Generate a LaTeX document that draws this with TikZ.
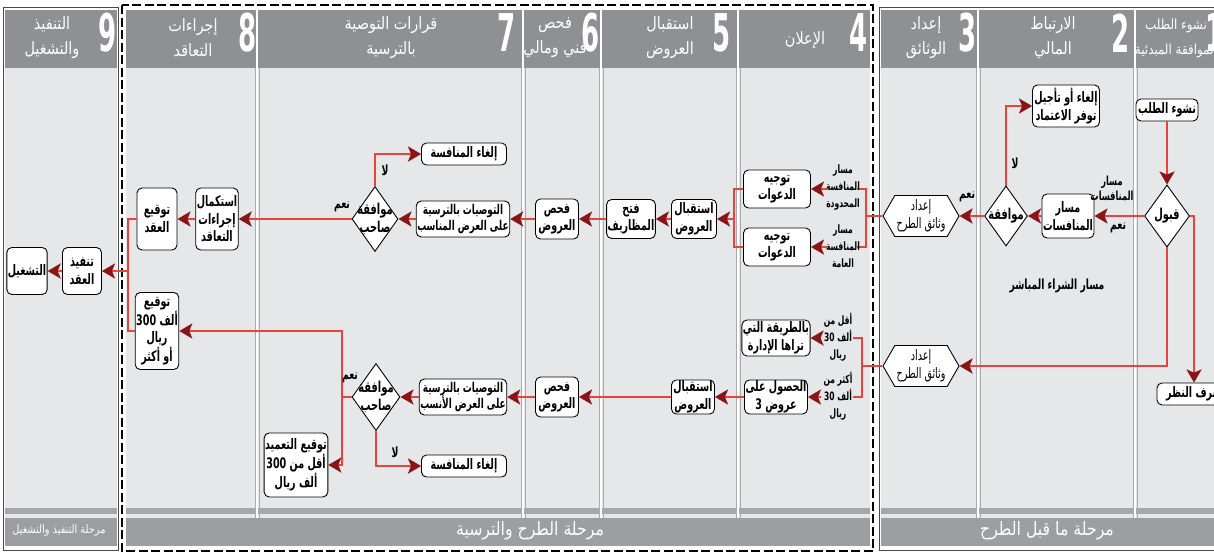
\documentclass[tikz,border=0pt]{standalone}
\usepackage{fontspec}
\usetikzlibrary{arrows.meta,shapes.geometric,shapes.symbols}
\TeXXeTstate=1
\newfontfamily\arfont[Script=Arabic,FakeStretch=0.66]{DejaVu Sans}
\newfontfamily\hdfont[Script=Arabic,FakeStretch=0.85]{DejaVu Sans}
\newfontfamily\numfont[FakeStretch=0.5]{DejaVu Sans}
\newcommand{\rtl}[1]{\beginR #1\endR}
\definecolor{hdrc}{HTML}{8E9093}
\definecolor{bodyc}{HTML}{E6E7E8}
\definecolor{stripc}{HTML}{A5A7AA}
\definecolor{bandc}{HTML}{9C9EA1}
\definecolor{divc}{HTML}{A8AAAD}
\definecolor{redc}{HTML}{E8433D}
\definecolor{arrc}{HTML}{8A1519}
\definecolor{frmc}{HTML}{4A4A4A}
\tikzset{
 box/.style={draw=black, line width=0.9pt, fill=white, rounded corners=5pt, align=center, inner sep=1pt, font=\arfont\bfseries\fontsize{14.5}{17.5}\selectfont},
 dia/.style={diamond, draw=black, line width=0.9pt, fill=white, inner sep=0pt},
 dtx/.style={align=center, inner sep=0pt, font=\arfont\bfseries\fontsize{15}{18}\selectfont},
 hex/.style={signal, signal to=west and east, signal pointer angle=120, draw=black, line width=0.9pt, fill=white, align=center, inner sep=1pt, font=\arfont\fontsize{14.5}{18}\selectfont},
 ln/.style={draw=redc, line width=2.6pt},
 arr/.style={ln, -{Stealth[length=13pt, width=15pt, inset=3pt, color=arrc]}},
 lbl/.style={align=center, inner sep=0pt, font=\arfont\bfseries\fontsize{14}{16}\selectfont},
 sml/.style={align=center, inner sep=0pt, font=\arfont\bfseries\fontsize{11.5}{17}\selectfont},
 hd/.style={text=white, align=center, inner sep=0pt, font=\hdfont\fontsize{17}{25}\selectfont},
 num/.style={text=white, inner sep=0pt, font=\numfont\bfseries\fontsize{52}{52}\selectfont},
 phase/.style={text=white, inner sep=0pt, font=\hdfont\fontsize{18.5}{20}\selectfont},
 frm/.style={draw=frmc, line width=1pt},
 dsh/.style={draw=black, line width=2.6pt, dash pattern=on 9pt off 3.5pt},
}
\begin{document}
\begin{tikzpicture}[x=1pt,y=-1pt]
\useasboundingbox (0,0) rectangle (1214,555);
\fill[white] (0,0) rectangle (1214,555);
% panels
\foreach \a/\b in {5/117,126/870,881/1216}{
 \fill[hdrc] (\a,10) rectangle (\b,68);
 \fill[bodyc] (\a,68) rectangle (\b,508);
 \fill[stripc] (\a,508) rectangle (\b,514);
 \fill[bodyc] (\a,514) rectangle (\b,518);
 \fill[bandc] (\a,518) rectangle (\b,546);
}
\foreach \x in {257,523,601,738,978,1135}{
 \draw[white, line width=2.4pt] (\x,10) -- (\x,518);
 \draw[divc, line width=0.5pt] (\x-1.9,68) -- (\x-1.9,518);
 \draw[divc, line width=0.5pt] (\x+1.9,68) -- (\x+1.9,518);
}
\draw[frm] (3,7) rectangle (118,550);
\draw[frm] (879,7) rectangle (1220,550);
\draw[dsh] (122,5) rectangle (873,551);
% headers
\node[hd, font=\hdfont\fontsize{14}{25}\selectfont] at (1176,38) {\rtl{نشوء الطلب}\\\rtl{الموافقة المبدئية}};
\node[hd] at (1053,38) {\rtl{الارتباط}\\\rtl{المالي}};
\node[hd] at (926,38) {\rtl{إعداد}\\\rtl{الوثائق}};
\node[hd] at (805,40) {\rtl{الإعلان}};
\node[hd] at (670,38) {\rtl{استقبال}\\\rtl{العروض}};
\node[hd] at (555,38) {\rtl{فحص}\\\rtl{فني ومالي}};
\node[hd] at (391,38) {\rtl{قرارات التوصية}\\\rtl{بالترسية}};
\node[hd] at (193,38) {\rtl{إجراءات}\\\rtl{التعاقد}};
\node[hd] at (52,38) {\rtl{التنفيذ}\\\rtl{والتشغيل}};
\node[num] at (1215,33) {1};
\node[num] at (1121,33) {2};
\node[num] at (968,33) {3};
\node[num] at (859,33) {4};
\node[num] at (722,33) {5};
\node[num] at (591,33) {6};
\node[num] at (507,33) {7};
\node[num] at (248,33) {8};
\node[num] at (108,33) {9};
% phases
\node[phase] at (1047,531) {\rtl{مرحلة ما قبل الطرح}};
\node[phase] at (530,531) {\rtl{مرحلة الطرح والترسية}};
\node[phase, font=\hdfont\fontsize{11.5}{13}\selectfont] at (59,531) {\rtl{مرحلة التنفيذ والتشغيل}};
% column 1-3
\node[box, minimum width=62pt, minimum height=22pt] (n1) at (1167,110) {\rtl{نشوء الطلب}};
\node[dia, minimum width=45pt, minimum height=62pt] (d1) at (1167,216) {};
\node[dtx] at (d1) {\rtl{قبول}};
\node[box, minimum width=74pt, minimum height=22pt] (n2) at (1194,394) {\rtl{صرف النظر}};
\node[box, minimum width=40pt, minimum height=44pt] (b2) at (1068,216) {\rtl{مسار}\\\rtl{المنافسات}};
\node[dia, minimum width=43pt, minimum height=60pt] (d2) at (1006,216) {};
\node[dtx] at (d2) {\rtl{موافقة}};
\node[box, minimum width=67pt, minimum height=42pt] (b3) at (1066,106) {\rtl{إلغاء أو تأجيل}\\\rtl{توفر الاعتماد}};
\node[hex, minimum width=76pt, minimum height=41pt] (hu) at (921,216) {\rtl{إعداد}\\\rtl{وثائق الطرح}};
\node[hex, minimum width=76pt, minimum height=41pt] (hl) at (921,366) {\rtl{إعداد}\\\rtl{وثائق الطرح}};
\node[lbl, font=\arfont\bfseries\fontsize{12.5}{15}\selectfont] at (1112,188) {\rtl{مسار}\\\rtl{المنافسات}};
\node[lbl] at (1118,228) {\rtl{نعم}};
\node[lbl] at (1015,163) {\rtl{لا}};
\node[lbl] at (967,197) {\rtl{نعم}};
\node[lbl] at (1057,286) {\rtl{مسار الشراء المباشر}};
\draw[arr] (n1.south) -- (d1.north);
\draw[arr] (d1.east) -| (n2.north);
\draw[arr] (d1.west) -- (b2.east);
\draw[arr] (b2.west) -- (d2.east);
\draw[arr] (d2.north) |- (b3.west);
\draw[arr] (d2.west) -- (hu.east);
\draw[arr] (d1.south) |- (hl.east);
% column 4 upper
\coordinate (k1) at (866,216);
\coordinate (s1) at (857,189);
\coordinate (s2) at (857,247);
\coordinate (a1) at (828,189);
\coordinate (a2) at (828,247);
\draw[ln] (hu.west) -- (k1);
\draw[ln] (s1) -| (k1) |- (s2);
\node[sml] at (843,188) {\rtl{مسار}\\\rtl{المنافسة}\\\rtl{المحدودة}};
\node[sml] at (843,246) {\rtl{مسار}\\\rtl{المنافسة}\\\rtl{العامة}};
\node[box, minimum width=67pt, minimum height=38pt] (c1) at (777,189) {\rtl{توجيه}\\\rtl{الدعوات}};
\node[box, minimum width=67pt, minimum height=38pt] (c2) at (777,247) {\rtl{توجيه}\\\rtl{الدعوات}};
\draw[arr] (a1) -- (c1.east);
\draw[arr] (a2) -- (c2.east);
\coordinate (j1) at (734,219);
\draw[ln] (c1.west) -| (j1) |- (c2.west);
\node[box, minimum width=45pt, minimum height=39pt] (e1) at (694,219) {\rtl{استقبال}\\\rtl{العروض}};
\draw[arr] (j1) -- (e1.east);
\node[box, minimum width=42pt, minimum height=39pt] (f1) at (631,219) {\rtl{فتح}\\\rtl{المظاريف}};
\draw[arr] (e1.west) -- (f1.east);
\node[box, minimum width=43pt, minimum height=40pt] (g1) at (557,219) {\rtl{فحص}\\\rtl{العروض}};
\draw[arr] (f1.west) -- (g1.east);
\node[box, minimum width=87pt, minimum height=36pt, font=\arfont\bfseries\fontsize{13.5}{16.5}\selectfont] (h1) at (463,219) {\rtl{التوصيات بالترسية}\\\rtl{على العرض المناسب}};
\draw[arr] (g1.west) -- (h1.east);
\node[dia, minimum width=46pt, minimum height=65pt] (d3) at (375,219) {};
\node[dtx] at (d3) {\rtl{موافقة}\\\rtl{صاحب}};
\draw[arr] (h1.west) -- (d3.east);
\node[box, minimum width=85pt, minimum height=22pt] (i1) at (464,154) {\rtl{إلغاء المنافسة}};
\draw[arr] (d3.north) |- (i1.west);
\node[lbl] at (385,170) {\rtl{لا}};
\node[lbl] at (342,207) {\rtl{نعم}};
\node[box, minimum width=41pt, minimum height=62pt] (j2) at (217,219) {\rtl{استكمال}\\\rtl{إجراءات}\\\rtl{التعاقد}};
\draw[arr] (d3.west) -- (j2.east);
\node[box, minimum width=40pt, minimum height=62pt] (k2) at (157,219) {\rtl{توقيع}\\\rtl{العقد}};
\draw[arr] (j2.west) -- (k2.east);
\node[box, minimum width=43pt, minimum height=77pt] (m2) at (157,331) {\rtl{توقيع}\\\rtl{ألف \beginL 300\endL}\\\rtl{ريال}\\\rtl{أو أكثر}};
\coordinate (q1) at (128,271);
\draw[ln] (k2.west) -| (q1) |- (m2.west);
\node[box, minimum width=39pt, minimum height=47pt] (t1) at (82,271) {\rtl{تنفيذ}\\\rtl{العقد}};
\node[box, minimum width=35pt, minimum height=47pt] (t2) at (27,271) {\rtl{التشغيل}};
\draw[arr] (q1) -- (t1.east);
\draw[arr] (t1.west) -- (t2.east);
% lower path
\coordinate (k3) at (862,366);
\coordinate (s3) at (853,338);
\coordinate (s4) at (853,397);
\coordinate (a3) at (821,338);
\coordinate (a4) at (821,397);
\draw[ln] (hl.west) -- (k3);
\draw[ln] (s3) -| (k3) |- (s4);
\node[sml] at (838,337) {\rtl{أقل من}\\\rtl{ألف \beginL 30\endL}\\\rtl{ريال}};
\node[sml] at (838,396) {\rtl{أكثر من}\\\rtl{ألف \beginL 30\endL}\\\rtl{ريال}};
\node[box, minimum width=62pt, minimum height=36pt] (p1) at (776,338) {\rtl{بالطريقة التي}\\\rtl{تراها الإدارة}};
\node[box, minimum width=62pt, minimum height=34pt] (p2) at (776,397) {\rtl{الحصول على}\\\rtl{عروض \beginL 3\endL}};
\draw[arr] (a3) -- (p1.east);
\draw[arr] (a4) -- (p2.east);
\node[box, minimum width=43pt, minimum height=33pt] (e2) at (693,397) {\rtl{استقبال}\\\rtl{العروض}};
\draw[arr] (p2.west) -- (e2.east);
\node[box, minimum width=43pt, minimum height=40pt] (g2) at (557,397) {\rtl{فحص}\\\rtl{العروض}};
\draw[arr] (e2.west) -- (g2.east);
\node[box, minimum width=87pt, minimum height=36pt, font=\arfont\bfseries\fontsize{13.5}{16.5}\selectfont] (h2) at (463,397) {\rtl{التوصيات بالترسية}\\\rtl{على العرض الأنسب}};
\draw[arr] (g2.west) -- (h2.east);
\node[dia, minimum width=48pt, minimum height=67pt] (d4) at (376,397) {};
\node[dtx] at (d4) {\rtl{موافقة}\\\rtl{صاحب}};
\draw[arr] (h2.west) -- (d4.east);
\coordinate (r1) at (342,397);
\draw[ln] (d4.west) -- (r1);
\draw[arr] (r1) |- (m2.east);
\node[box, minimum width=58pt, minimum height=64pt] (u1) at (296,465) {\rtl{توقيع التعميد}\\\rtl{أقل من \beginL 300\endL}\\\rtl{ألف ريال}};
\draw[arr] (r1) |- (u1.east);
\node[box, minimum width=85pt, minimum height=22pt] (i2) at (464,466) {\rtl{إلغاء المنافسة}};
\draw[arr] (d4.south) |- (i2.west);
\node[lbl] at (350,378) {\rtl{نعم}};
\node[lbl] at (395,452) {\rtl{لا}};
\end{tikzpicture}
\end{document}
